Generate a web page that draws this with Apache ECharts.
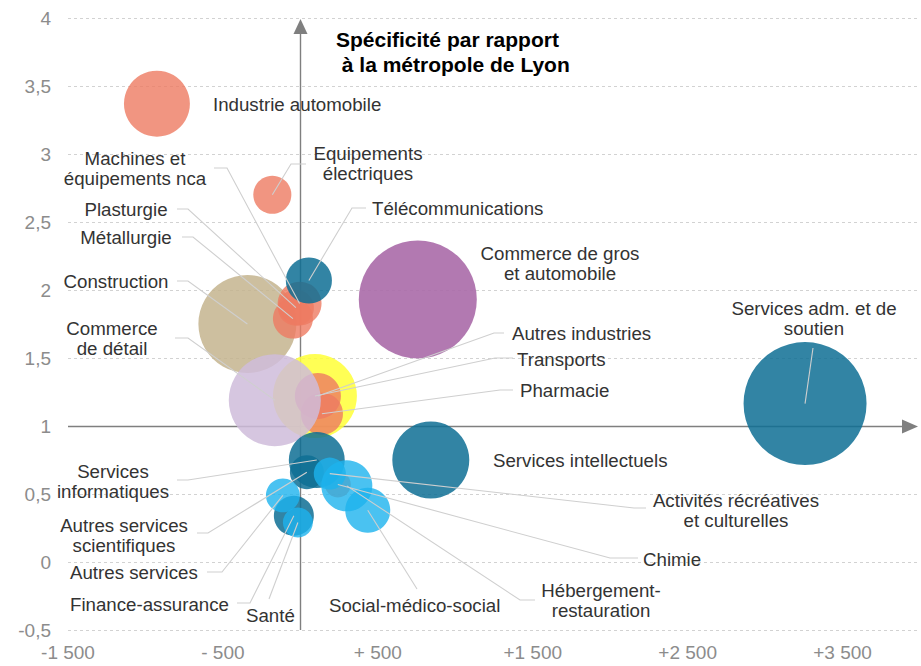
<!DOCTYPE html>
<html><head><meta charset="utf-8">
<script src="https://cdn.jsdelivr.net/npm/echarts@6/dist/echarts.min.js"></script>
<style>html,body{margin:0;padding:0;background:#fff}#c{width:921px;height:666px}</style>
</head><body><div id="c"></div>
<script>
// ---- DATA ----
const sectors = ['Construction','Transports','Industrie automobile','Equipements électriques','Machines et équipements nca','Plasturgie','Métallurgie','Autres industries','Pharmacie','Chimie','Télécommunications','Commerce de détail','Commerce de gros et automobile','Services informatiques','Autres services scientifiques','Services intellectuels','Services adm. et de soutien','Finance-assurance','Autres services','Santé','Hébergement-restauration','Social-médico-social','Activités récréatives et culturelles'];
const ecartEmplois = [-342, 94, -926, -181, -5, -29, -48, 113, 139, 242, 55, -165, 758, 106, 42, 842, 3258, -42, -113, -16, 300, 435, 190];
const specificite = [1.75, 1.22, 3.37, 2.70, 1.90, 1.87, 1.79, 1.22, 1.09, 0.57, 2.07, 1.19, 1.93, 0.75, 0.66, 0.75, 1.165, 0.34, 0.49, 0.29, 0.56, 0.38, 0.65];
const effectifs = [38400, 28200, 17400, 5800, 7700, 5200, 6400, 8500, 7100, 2700, 8500, 33900, 55700, 12500, 4600, 23700, 60500, 6400, 4600, 3600, 10400, 8100, 4100];
const familles = ['construction','transports','industrie','industrie','industrie','industrie','industrie','industrie','industrie','industrie','servicesA','commerceDetail','commerceGros','servicesA','servicesA','servicesA','servicesA','servicesA','servicesB','servicesB','servicesB','servicesB','servicesB'];
const xTickValues = [-1500, -500, 500, 1500, 2500, 3500];
const xTickLabels = ['-1 500', '- 500', '+ 500', '+1 500', '+2 500', '+3 500'];
const yTickValues = [-0.5, 0, 0.5, 1, 1.5, 2, 2.5, 3, 3.5, 4];
const yTickLabels = ['-0,5', '0', '0,5', '1', '1,5', '2', '2,5', '3', '3,5', '4'];
const titleLines = ['Spécificité par rapport', ' à la métropole de Lyon'];

// ---- STYLE ----
const familyStyle = {
  construction: {color: '#C4B48E', opacity: 0.85},
  transports: {color: '#FFFF37', opacity: 0.85},
  industrie: {color: '#EE7A62', opacity: 0.8},
  commerceDetail: {color: '#CFBCDB', opacity: 0.85},
  commerceGros: {color: '#AA6AA8', opacity: 0.9},
  servicesA: {color: '#0E6F94', opacity: 0.85},
  servicesB: {color: '#1DB3EE', opacity: 0.8}
};
// label placement (pixels): text, align, x, y (centre of first line), leader start/elbow
const labelPlacement = {
  'Industrie automobile': {t: 'Industrie automobile', a: 'left', x: 213, y: 104},
  'Equipements électriques': {t: 'Equipements\nélectriques', a: 'center', x: 368, y: 153, l: [[306, 164], [291, 164]]},
  'Télécommunications': {t: 'Télécommunications', a: 'left', x: 372, y: 208, l: [[366, 208], [352, 208]]},
  'Commerce de gros et automobile': {t: 'Commerce de gros\net automobile', a: 'center', x: 560, y: 253},
  'Machines et équipements nca': {t: 'Machines et\néquipements nca', a: 'center', x: 135, y: 158, l: [[214, 168], [227, 168]]},
  'Plasturgie': {t: 'Plasturgie', a: 'center', x: 126, y: 209, l: [[177, 209], [188, 209]]},
  'Métallurgie': {t: 'Métallurgie', a: 'center', x: 126, y: 237, l: [[182, 237], [193, 237]]},
  'Construction': {t: 'Construction', a: 'center', x: 116, y: 281, l: [[177, 281], [188, 281]]},
  'Commerce de détail': {t: 'Commerce\nde détail', a: 'center', x: 112, y: 328, l: [[175, 338], [188, 338]]},
  'Autres industries': {t: 'Autres industries', a: 'left', x: 512, y: 333, l: [[504, 333], [494, 333]]},
  'Transports': {t: 'Transports', a: 'left', x: 517, y: 359, l: [[513, 358], [495, 358]]},
  'Pharmacie': {t: 'Pharmacie', a: 'left', x: 520, y: 390, l: [[513, 390], [500, 390]]},
  'Services adm. et de soutien': {t: 'Services adm. et de\nsoutien', a: 'center', x: 814, y: 308, l: [[813, 348]]},
  'Services intellectuels': {t: 'Services intellectuels', a: 'left', x: 493, y: 460},
  'Activités récréatives et culturelles': {t: 'Activités récréatives\net culturelles', a: 'center', x: 736, y: 500, l: [[646, 508], [634, 508]]},
  'Chimie': {t: 'Chimie', a: 'left', x: 643, y: 559, l: [[638, 558], [610, 558]]},
  'Hébergement-restauration': {t: 'Hébergement-\nrestauration', a: 'center', x: 601, y: 590, l: [[535, 600], [520, 600]]},
  'Social-médico-social': {t: 'Social-médico-social', a: 'left', x: 329, y: 605, l: [[417, 589]]},
  'Services informatiques': {t: 'Services\ninformatiques', a: 'center', x: 113, y: 471, l: [[177, 480], [188, 480]]},
  'Autres services scientifiques': {t: 'Autres services\nscientifiques', a: 'center', x: 124, y: 525, l: [[197, 533], [208, 533]]},
  'Autres services': {t: 'Autres services', a: 'left', x: 70, y: 572, l: [[207, 572], [222, 572]]},
  'Finance-assurance': {t: 'Finance-assurance', a: 'left', x: 70, y: 604, l: [[237, 603], [250, 603]]},
  'Santé': {t: 'Santé', a: 'left', x: 246, y: 615, l: [[269, 599]]}
};
const FONT = '"Liberation Sans", Arial, sans-serif';

const chart = echarts.init(document.getElementById('c'), null, {renderer: 'svg'});
const seriesData = sectors.map((s, i) => ({
  name: s,
  value: [ecartEmplois[i], specificite[i], effectifs[i]],
  itemStyle: {color: familyStyle[familles[i]].color, opacity: familyStyle[familles[i]].opacity}
}));

chart.setOption({
  animation: false,
  backgroundColor: '#fff',
  grid: {left: 68, right: 1, top: 18, bottom: 36},
  xAxis: {
    type: 'value', min: -1500, max: 4000, interval: 1000,
    axisLine: {show: false}, axisTick: {show: false}, splitLine: {show: false},
    axisLabel: {
      showMaxLabel: false, margin: 13, color: '#8c8c8c', fontSize: 19, fontFamily: FONT,
      formatter: v => { const k = xTickValues.indexOf(v); return k >= 0 ? xTickLabels[k] : ''; }
    }
  },
  yAxis: {
    type: 'value', min: -0.5, max: 4, interval: 0.5,
    axisLine: {show: false}, axisTick: {show: false},
    splitLine: {show: true, lineStyle: {color: '#d2d2d2', type: [3, 3], width: 1}},
    axisLabel: {
      margin: 17, color: '#8c8c8c', fontSize: 19, fontFamily: FONT,
      formatter: v => { const k = yTickValues.findIndex(t => Math.abs(t - v) < 1e-9); return k >= 0 ? yTickLabels[k] : ''; }
    }
  },
  series: [{
    type: 'scatter',
    data: seriesData,
    symbolSize: v => Math.sqrt(v[2]) / 2,
    itemStyle: {borderWidth: 0},
    emphasis: {disabled: true}
  }]
});

// ---- overlays: axes with arrows, title, labels and leader lines ----
const px = (x, y) => chart.convertToPixel({gridIndex: 0}, [x, y]);
const g = [];
const axisColor = '#7f7f7f';
const h0 = px(-1500, 1), h1 = px(4000, 1);
const hy = Math.round(h0[1]) + 0.5, tipX = h1[0] - 2;
g.push({type: 'polyline', z: 1, shape: {points: [[h0[0], hy], [tipX - 12, hy]]}, style: {stroke: axisColor, lineWidth: 1.4, fill: null}});
g.push({type: 'polygon', z: 1, shape: {points: [[tipX, hy], [tipX - 16, hy - 7], [tipX - 16, hy + 7]]}, style: {fill: axisColor}});
const v0 = px(0, -0.5), v1 = px(0, 4);
const vx = Math.round(v0[0]) + 0.5, tipY = v1[1] + 1;
g.push({type: 'polyline', z: 1, shape: {points: [[vx, v0[1]], [vx, tipY + 12]]}, style: {stroke: axisColor, lineWidth: 1.4, fill: null}});
g.push({type: 'polygon', z: 1, shape: {points: [[vx, tipY], [vx - 7, tipY + 15], [vx + 7, tipY + 15]]}, style: {fill: axisColor}});

g.push({type: 'text', z: 100, style: {text: titleLines[0], x: 336, y: 29, font: 'bold 21px ' + FONT, fill: '#000', textAlign: 'left', align: 'left', textVerticalAlign: 'top', verticalAlign: 'top'}});
g.push({type: 'text', z: 100, style: {text: titleLines[1], x: 336, y: 54, font: 'bold 21px ' + FONT, fill: '#000', textAlign: 'left', align: 'left', textVerticalAlign: 'top', verticalAlign: 'top'}});

sectors.forEach((s, i) => {
  const p = labelPlacement[s];
  if (!p) return;
  const c = px(ecartEmplois[i], specificite[i]);
  if (p.l) {
    g.push({type: 'polyline', z: 90, shape: {points: p.l.concat([c])}, style: {stroke: '#cfcfcf', lineWidth: 1.1, fill: null}});
  }
  g.push({type: 'text', z: 100, style: {
    text: p.t, x: p.x, y: p.y - 10, font: '18.7px ' + FONT, fill: '#333', lineHeight: 20,
    textAlign: p.a, align: p.a, textVerticalAlign: 'top', verticalAlign: 'top'
  }});
});
chart.setOption({graphic: {elements: g}});
</script></body></html>
